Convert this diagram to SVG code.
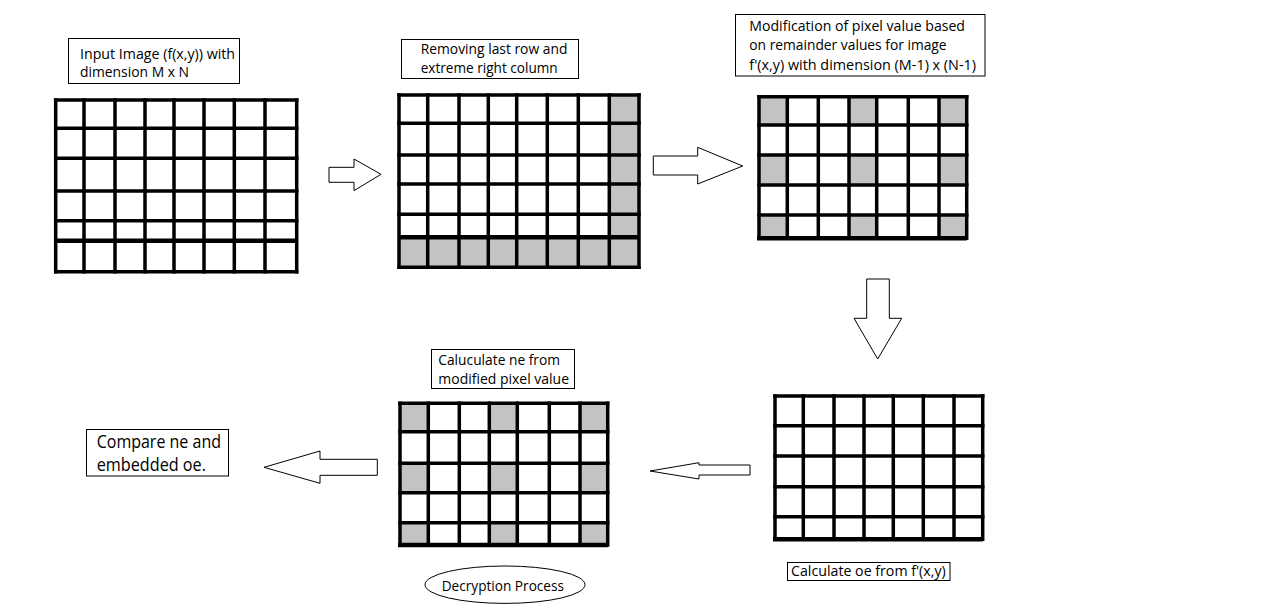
<svg xmlns="http://www.w3.org/2000/svg" width="1285" height="610" viewBox="0 0 1285 610">
<style>
.bg{fill:#ffffff}
.grid{fill:none;stroke:#000;stroke-width:3.5;stroke-linecap:square}
.thick{fill:none;stroke:#000;stroke-width:4.5}
.gray{fill:#c3c3c3}
.box{fill:#fff;stroke:#000;stroke-width:1}
.t{font-family:"Segoe UI","Open Sans","Liberation Sans",sans-serif;font-size:14px;fill:#000}
.big{font-size:18px}
.arrow{fill:#fff;stroke:#000;stroke-width:1}
</style>
<rect class="bg" x="0" y="0" width="1285" height="610"/>

<g id="label-input">
<rect class="box" x="68.5" y="38.5" width="171" height="45"/>
<text class="t" x="80" y="58.5" textLength="155" lengthAdjust="spacingAndGlyphs">Input Image (f(x,y)) with</text>
<text class="t" x="80" y="77" textLength="109" lengthAdjust="spacingAndGlyphs">dimension M x N</text>
</g>

<g id="grid-input">
<path class="grid" d="M55.7,100V271.7M84,100V271.7M115,100V271.7M145,100V271.7M174,100V271.7M204,100V271.7M234.3,100V271.7M265,100V271.7M296.7,100V271.7"/>
<path class="grid" d="M55.7,100H296.7M55.7,128.3H296.7M55.7,158.3H296.7M55.7,191H296.7M55.7,220.7H296.7M55.7,271.7H296.7"/>
<path class="thick" d="M55.7,240.7H296.7"/>
</g>

<g id="label-remove">
<rect class="box" x="401.5" y="39.5" width="177" height="39"/>
<text class="t" x="420.7" y="53.5" textLength="146.7" lengthAdjust="spacingAndGlyphs">Removing last row and</text>
<text class="t" x="420.7" y="72.7" textLength="137" lengthAdjust="spacingAndGlyphs">extreme right column</text>
</g>

<g id="grid-remove">
<rect class="gray" x="609.3" y="95" width="29.7" height="172.3"/>
<rect class="gray" x="399" y="237.3" width="240" height="30"/>
<path class="grid" d="M399,95V267.3M427.7,95V267.3M459,95V267.3M488.3,95V267.3M516.7,95V267.3M547.3,95V267.3M578.3,95V267.3M609.3,95V267.3M639,95V267.3"/>
<path class="grid" d="M399,95H639M399,123.3H639M399,155H639M399,184H639M399,214.3H639M399,267.3H639"/>
<path class="thick" d="M399,237.3H639"/>
</g>

<g id="label-modify">
<rect class="box" x="735.5" y="14.5" width="249.5" height="61.5"/>
<text class="t" x="749.3" y="30.5" textLength="215.7" lengthAdjust="spacingAndGlyphs">Modification of pixel value based</text>
<text class="t" x="749.3" y="50.3" textLength="197.3" lengthAdjust="spacingAndGlyphs">on remainder values for image</text>
<text class="t" x="749.3" y="70" textLength="226.7" lengthAdjust="spacingAndGlyphs">f'(x,y) with dimension (M-1) x (N-1)</text>
</g>

<g id="grid-modify">
<rect class="gray" x="759" y="96.7" width="28.3" height="28.3"/>
<rect class="gray" x="849" y="96.7" width="27.7" height="28.3"/>
<rect class="gray" x="939" y="96.7" width="27.7" height="28.3"/>
<rect class="gray" x="759" y="155" width="28.3" height="30"/>
<rect class="gray" x="849" y="155" width="27.7" height="30"/>
<rect class="gray" x="939" y="155" width="27.7" height="30"/>
<rect class="gray" x="759" y="215" width="28.3" height="23.3"/>
<rect class="gray" x="849" y="215" width="27.7" height="23.3"/>
<rect class="gray" x="939" y="215" width="27.7" height="23.3"/>
<path class="grid" d="M759,96.7V238.3M787.3,96.7V238.3M818.3,96.7V238.3M849,96.7V238.3M876.7,96.7V238.3M908.3,96.7V238.3M939,96.7V238.3M966.7,96.7V238.3"/>
<path class="grid" d="M759,96.7H966.7M759,125H966.7M759,155H966.7M759,185H966.7M759,215H966.7"/>
<path class="thick" d="M757,238.3H966.7"/>
</g>

<g id="grid-calc-oe">
<path class="grid" d="M775,396V539.3M803.3,396V539.3M834,396V539.3M864,396V539.3M893.3,396V539.3M923.3,396V539.3M954,396V539.3M982.7,396V539.3"/>
<path class="grid" d="M775,396H982.7M775,425.7H982.7M775,456H982.7M775,486.7H982.7M775,516.7H982.7"/>
<path class="thick" d="M773,539.3H982.7"/>
</g>

<g id="label-calc-oe">
<rect class="box" x="787.5" y="562.5" width="162.5" height="18"/>
<text class="t" x="791" y="575.5" textLength="154.7" lengthAdjust="spacingAndGlyphs">Calculate oe from f'(x,y)</text>
</g>

<g id="label-calc-ne">
<rect class="box" x="431.5" y="349.5" width="143" height="39"/>
<text class="t" x="438.3" y="365.3" textLength="121.7" lengthAdjust="spacingAndGlyphs">Caluculate ne from</text>
<text class="t" x="438.3" y="383.8" textLength="130.7" lengthAdjust="spacingAndGlyphs">modified pixel value</text>
</g>

<g id="grid-calc-ne">
<rect class="gray" x="400" y="403.3" width="28.3" height="28.4"/>
<rect class="gray" x="489.3" y="403.3" width="28" height="28.4"/>
<rect class="gray" x="580" y="403.3" width="27.7" height="28.4"/>
<rect class="gray" x="400" y="463.3" width="28.3" height="29.4"/>
<rect class="gray" x="489.3" y="463.3" width="28" height="29.4"/>
<rect class="gray" x="580" y="463.3" width="27.7" height="29.4"/>
<rect class="gray" x="400" y="522.7" width="28.3" height="22.3"/>
<rect class="gray" x="489.3" y="522.7" width="28" height="22.3"/>
<rect class="gray" x="580" y="522.7" width="27.7" height="22.3"/>
<path class="grid" d="M400,403.3V545M428.3,403.3V545M459.3,403.3V545M489.3,403.3V545M517.3,403.3V545M549.3,403.3V545M580,403.3V545M607.7,403.3V545"/>
<path class="grid" d="M400,403.3H607.7M400,431.7H607.7M400,463.3H607.7M400,492.7H607.7M400,522.7H607.7"/>
<path class="thick" d="M398,545H607.7"/>
</g>

<g id="label-decryption">
<ellipse class="box" cx="505" cy="584.7" rx="80" ry="18.7"/>
<text class="t" x="441.7" y="591" textLength="122.3" lengthAdjust="spacingAndGlyphs">Decryption Process</text>
</g>

<g id="label-compare">
<rect class="box" x="86.5" y="429.5" width="142" height="46.5"/>
<text class="t big" x="96.7" y="448" textLength="124.3" lengthAdjust="spacingAndGlyphs">Compare ne and</text>
<text class="t big" x="96.7" y="470.5" textLength="109.3" lengthAdjust="spacingAndGlyphs">embedded oe.</text>
</g>

<g id="connectors">
<polygon class="arrow" points="329,167.3 354,167.3 354,159 381,174.3 354,190.7 354,182.3 329,182.3"/>
<polygon class="arrow" points="653.3,156 697.7,156 697.7,147.3 742.7,166 697.7,184 697.7,175 653.3,175"/>
<polygon class="arrow" points="866.7,279 889.3,279 889.3,318.3 901.7,318.3 877.7,359 854,318.3 866.7,318.3"/>
<polygon class="arrow" points="650,471 699,462.7 699,465 750,465 750,475 699,475 699,479"/>
<polygon class="arrow" points="264,467.3 320,451 320,459.3 377.3,459.3 377.3,475.3 320,475.3 320,483.3"/>
</g>
</svg>
